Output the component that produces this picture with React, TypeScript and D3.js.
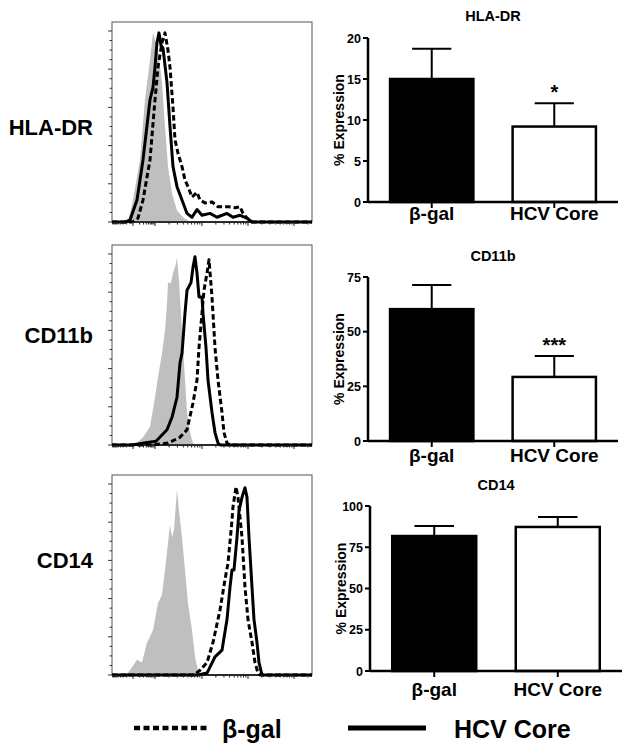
import React from 'react';
import * as d3 from 'd3';

type Pt = [number, number];

// ---------- labels ----------
const markers = ['HLA-DR', 'CD11b', 'CD14'];
const groups = ['β-gal', 'HCV Core'];

// ---------- bar data (% Expression, mean and SD) ----------
const meanHLA = [15.0, 9.2];
const sdHLA = [3.7, 2.85];
const sigHLA = ['', '*'];
const ticksHLA = [0, 5, 10, 15, 20];

const meanCD11b = [60.3, 29.3];
const sdCD11b = [11.0, 9.6];
const sigCD11b = ['', '***'];
const ticksCD11b = [0, 25, 50, 75];

const meanCD14 = [81.8, 87.3];
const sdCD14 = [6.1, 6.0];
const sigCD14 = ['', ''];
const ticksCD14 = [0, 25, 50, 75, 100];

// ---------- histogram data: [display channel 0-100, % of max] ----------
const isoHLA: Pt[] = [[0,0],[8,0],[10.5,11.5],[14,32.5],[16.5,64],[19,85],[20.5,99],[23,90],[25,73],[26.5,50],[28,29],[30,15],[32.5,6],[35.5,2.5],[39,0],[100,0]];
const hcvHLA: Pt[] = [[0,0],[6.5,0],[9,1],[12.5,11.5],[15.5,32.5],[19,64],[20.5,70.5],[21.5,81],[22.5,94],[23.5,99],[24.5,92.5],[25.5,91],[27.5,73],[29,50],[30.5,29],[32.5,18.5],[35,11.5],[37.5,4.5],[40,2.5],[42.5,6.5],[45,3.5],[49,4.5],[52.5,2.5],[57.5,4.5],[60.5,2.5],[64,3.5],[67.5,2],[70,0],[100,0]];
const bgalHLA: Pt[] = [[0,0],[10,0],[13,2],[15.5,11.5],[19,32.5],[21.5,64],[23,81],[25,94],[26.5,99],[28,90],[29,81],[30.5,60],[31.5,43],[33,36],[35,29],[36.5,22],[38,18.5],[40,13],[42.5,15.5],[44,11.5],[46.5,10],[50,10.5],[53,8],[58,8],[61.5,7.5],[64,8],[65.5,4.5],[67.5,2],[70,0],[100,0]];

const isoCD11b: Pt[] = [[0,0],[10,0],[12.5,1],[15.5,4],[19,9.5],[21.5,25],[23,35.5],[25,48],[26.5,60],[27.5,74],[28,85],[29.5,85],[30.5,90],[31.5,93],[32.5,98],[33.5,86],[35,60],[36.5,34],[37.5,17],[39,6.5],[40.5,1],[42,0],[100,0]];
const hcvCD11b: Pt[] = [[0,0],[10,0],[16,1],[22,2],[27.5,8],[30,14.5],[32.5,25],[34,43],[35,48],[36.5,69],[37.5,81],[39.5,85],[40.5,93],[41.5,98.5],[42.5,90],[43.5,77.5],[45,77.5],[45.5,69],[47,51],[48,34],[50,17],[51.5,6.5],[53,1],[54,0],[100,0]];
const bgalCD11b: Pt[] = [[0,0],[20,0],[28,1],[34,4],[37.5,8],[40.5,22],[42.5,34],[43.5,51],[45,69],[46,81],[47.5,90],[48.5,97],[50,77.5],[51.5,51],[53,34],[55,17],[56,6.5],[57.5,1],[59,0],[100,0]];

const isoCD14: Pt[] = [[0,0],[6.5,0],[9,2.5],[12.5,8],[15,6.5],[17.5,17],[19,20],[20.5,23.5],[23,37.5],[25,42],[26.5,55],[28,69],[29,78.5],[30,72],[31,76],[32,90],[32.5,97],[33.5,86],[35,72],[36.5,55],[38,37.5],[40,23.5],[41.5,9.5],[43,2.5],[44,0],[100,0]];
const bgalCD14: Pt[] = [[0,0],[41,0],[44,2.5],[47.5,6.5],[50.5,17],[54,34],[56.5,50],[58,58.5],[60,81],[60.5,88],[62,98.5],[63,93],[65,72],[66.5,46],[68,29],[70,17],[71.5,6.5],[73,1],[74,0],[100,0]];
const hcvCD14: Pt[] = [[0,0],[43,0],[47.5,1],[51.5,9.5],[55,13],[57.5,29],[59,46],[60,55],[61,55],[62.5,72],[63.5,86],[65,93],[66.5,98],[67.5,93],[68.5,72],[70,46],[71,29],[72.5,17],[73.5,6.5],[75,0],[100,0]];

// histogram axis: decade positions on the display scale
const xMajorTicks = [10.5, 21.5, 45, 68, 91];
const yHistMajor = [0, 20, 40, 60, 80, 100];

const FONT = '"Liberation Sans", Arial, Helvetica, sans-serif';

function xMinorTicks(): number[] {
  const out: number[] = [];
  const logs = d3.range(2, 10).map((k) => Math.log10(k));
  logs.forEach((l) => out.push(10.5 - l * 10.5));
  logs.forEach((l) => out.push(10.5 + l * 11));
  for (let i = 1; i < xMajorTicks.length - 1; i++) {
    const w = xMajorTicks[i + 1] - xMajorTicks[i];
    logs.forEach((l) => out.push(xMajorTicks[i] + l * w));
  }
  logs.forEach((l) => { const v = 91 + l * 23; if (v <= 100) out.push(v); });
  return out;
}

function Histo({ top, bottom, iso, bgal, hcv }: { top: number; bottom: number; iso: Pt[]; bgal: Pt[]; hcv: Pt[] }) {
  const left = 112, right = 312;
  const x = d3.scaleLinear().domain([0, 100]).range([left, right]);
  const y = d3.scaleLinear().domain([0, 104.7]).range([bottom, top]);
  const area = d3.area<Pt>().x((d) => x(d[0])).y0(y(0)).y1((d) => y(d[1]));
  const line = d3.line<Pt>().x((d) => x(d[0])).y((d) => y(d[1]));
  const yMinor = d3.range(5, 101, 5).filter((v) => v % 20 !== 0);
  return (
    <g>
      <rect x={left} y={top} width={right - left} height={bottom - top} fill="white" stroke="#555" strokeWidth={1} />
      <path d={area(iso) || ''} fill="#bfbfbf" />
      <path d={line(bgal) || ''} fill="none" stroke="black" strokeWidth={3} strokeDasharray="5.5,3" strokeLinejoin="round" />
      <path d={line(hcv) || ''} fill="none" stroke="black" strokeWidth={3} strokeLinejoin="round" />
      <line x1={left} x2={right} y1={bottom} y2={bottom} stroke="black" strokeWidth={1.5} />
      {yHistMajor.map((v) => (
        <line key={'ym' + v} x1={left - 4} x2={left} y1={y(v)} y2={y(v)} stroke="#333" strokeWidth={1} />
      ))}
      {yMinor.map((v) => (
        <line key={'yn' + v} x1={left - 2.5} x2={left} y1={y(v)} y2={y(v)} stroke="#333" strokeWidth={1} />
      ))}
      {xMajorTicks.map((v) => (
        <line key={'xm' + v} x1={x(v)} x2={x(v)} y1={bottom} y2={bottom + 4} stroke="#222" strokeWidth={1} />
      ))}
      {xMinorTicks().map((v, i) => (
        <line key={'xn' + i} x1={x(v)} x2={x(v)} y1={bottom} y2={bottom + 2.5} stroke="#222" strokeWidth={1} />
      ))}
    </g>
  );
}

function Bars({ left, right, y0, yMax, max, ticks, means, sds, sig, title, titleY, labelY }: {
  left: number; right: number; y0: number; yMax: number; max: number; ticks: number[];
  means: number[]; sds: number[]; sig: string[]; title: string; titleY: number; labelY: number;
}) {
  const x = d3.scaleBand<string>().domain(groups).range([left, right]).paddingInner(0.32).paddingOuter(0.18);
  const y = d3.scaleLinear().domain([0, max]).range([y0, yMax]);
  const bw = x.bandwidth();
  const capHalf = bw * 0.235;
  return (
    <g fontFamily={FONT} fontWeight="bold">
      <text x={(left + right) / 2} y={titleY} textAnchor="middle" fontSize={14.5}>{title}</text>
      {groups.map((g, i) => {
        const cx = (x(g) as number) + bw / 2;
        const top = y(means[i] + sds[i]);
        return (
          <g key={g}>
            <line x1={cx} x2={cx} y1={y(means[i])} y2={top} stroke="black" strokeWidth={2} />
            <line x1={cx - capHalf} x2={cx + capHalf} y1={top} y2={top} stroke="black" strokeWidth={2} />
            <rect x={x(g)} y={y(means[i])} width={bw} height={y(0) - y(means[i])}
              fill={i === 0 ? 'black' : 'white'} stroke="black" strokeWidth={2.5} />
            {sig[i] ? <text x={cx} y={top - 4} textAnchor="middle" fontSize={20}>{sig[i]}</text> : null}
            <line x1={cx} x2={cx} y1={y0} y2={y0 + 6} stroke="black" strokeWidth={2} />
            <text x={cx} y={labelY} textAnchor="middle" fontSize={19}>{g}</text>
          </g>
        );
      })}
      <line x1={left} x2={left} y1={y0 + 1} y2={yMax} stroke="black" strokeWidth={2.5} />
      <line x1={left} x2={right} y1={y0} y2={y0} stroke="black" strokeWidth={2.5} />
      {ticks.map((t) => (
        <g key={t}>
          <line x1={left - 5} x2={left} y1={y(t)} y2={y(t)} stroke="black" strokeWidth={2} />
          <text x={left - 7} y={y(t)} dy="0.36em" textAnchor="end" fontSize={12.5}>{t}</text>
        </g>
      ))}
      <text transform={`translate(${left - 24},${(y0 + yMax) / 2}) rotate(-90)`} textAnchor="middle" fontSize={14}>% Expression</text>
    </g>
  );
}

export default function App() {
  return (
    <svg width={629} height={745} style={{ position: 'absolute', left: 0, top: 0, background: 'white' }}>
      <rect x={0} y={0} width={629} height={745} fill="white" />
      <g fontFamily={FONT} fontWeight="bold" fontSize={22} textAnchor="end">
        <text x={93} y={135}>{markers[0]}</text>
        <text x={93} y={343}>{markers[1]}</text>
        <text x={93} y={568}>{markers[2]}</text>
      </g>
      <Histo top={22} bottom={222} iso={isoHLA} bgal={bgalHLA} hcv={hcvHLA} />
      <Histo top={245} bottom={445} iso={isoCD11b} bgal={bgalCD11b} hcv={hcvCD11b} />
      <Histo top={475} bottom={675} iso={isoCD14} bgal={bgalCD14} hcv={hcvCD14} />

      <Bars left={368} right={618} y0={202} yMax={38} max={20} ticks={ticksHLA} means={meanHLA} sds={sdHLA}
        sig={sigHLA} title={markers[0]} titleY={21} labelY={220} />
      <Bars left={368} right={618} y0={441} yMax={277} max={75} ticks={ticksCD11b} means={meanCD11b} sds={sdCD11b}
        sig={sigCD11b} title={markers[1]} titleY={261} labelY={462} />
      <Bars left={370} right={622} y0={671} yMax={506} max={100} ticks={ticksCD14} means={meanCD14} sds={sdCD14}
        sig={sigCD14} title={markers[2]} titleY={490} labelY={696} />

      <g fontFamily={FONT} fontWeight="bold" fontSize={25}>
        <line x1={134} x2={210} y1={728} y2={728} stroke="black" strokeWidth={4.5} strokeDasharray="6,3.5" />
        <text x={222} y={738}>{groups[0]}</text>
        <line x1={348} x2={426} y1={728} y2={728} stroke="black" strokeWidth={5} />
        <text x={454} y={738}>{groups[1]}</text>
      </g>
    </svg>
  );
}
